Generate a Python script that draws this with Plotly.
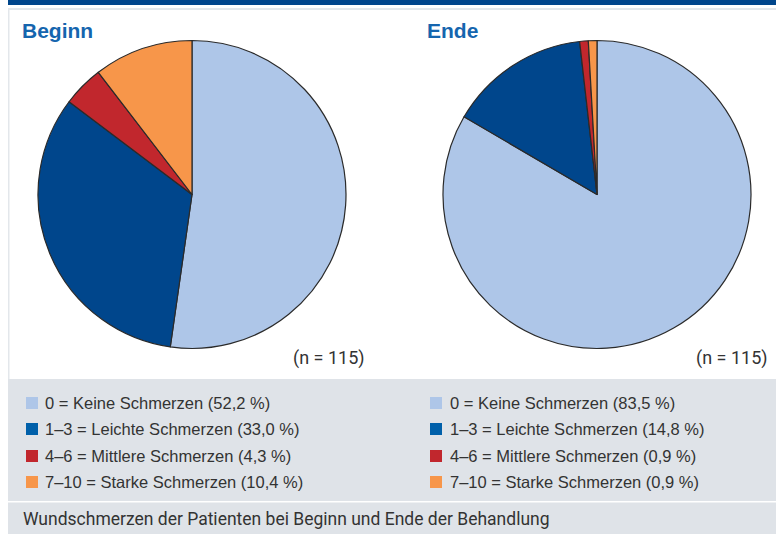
import plotly.graph_objects as go

W, H = 776, 534

categories = ["0 = Keine Schmerzen", "1–3 = Leichte Schmerzen",
              "4–6 = Mittlere Schmerzen", "7–10 = Starke Schmerzen"]
beginn_values = [52.2, 33.0, 4.3, 10.4]
ende_values = [83.5, 14.8, 0.9, 0.9]
panel_titles = ["Beginn", "Ende"]
n_label = "(n = 115)"
caption = "Wundschmerzen der Patienten bei Beginn und Ende der Behandlung"

pie_colors = ["#aec6e8", "#00468c", "#c1272d", "#f7964a"]
legend_colors = ["#aec6e8", "#0060aa", "#c1272d", "#f7964a"]


def px(x):
    return x / W


def py(y):
    return 1 - y / H


def fmt(v):
    return f"({v:.1f} %)".replace(".", ",")


fig = go.Figure()

pie_boxes = [(38, 346), (443, 751)]
for vals, (x0, x1) in zip([beginn_values, ende_values], pie_boxes):
    fig.add_trace(go.Pie(
        labels=categories, values=vals, sort=False, direction="clockwise",
        rotation=0, textinfo="none", hoverinfo="label+percent",
        marker=dict(colors=pie_colors, line=dict(color="#2a2a2a", width=1.2)),
        domain=dict(x=[px(x0), px(x1)], y=[py(348.5), py(40.5)]),
        showlegend=False,
    ))

shapes = []


def rect(x0, y0, x1, y1, color):
    shapes.append(dict(type="rect", xref="paper", yref="paper",
                       x0=px(x0), x1=px(x1), y0=py(y1), y1=py(y0),
                       fillcolor=color, line=dict(width=0), layer="below"))


rect(8, 0, W, 5, "#00468c")
rect(8, 8, W, 10, "#e3e7eb")
rect(8, 8, 9.5, 379, "#e3e7eb")
rect(8, 379, W, 501, "#dfe3e8")
rect(8, 502.5, W, H, "#dfe3e8")

annotations = []
for t, x in zip(panel_titles, [20, 425]):
    annotations.append(dict(text=f"<b>{t}</b>", x=px(x), y=py(30), xref="paper", yref="paper",
                            xanchor="left", yanchor="middle", showarrow=False,
                            font=dict(family="Liberation Sans, Arial", size=21, color="#1565ae")))

for xr in [367, 770]:
    annotations.append(dict(text=n_label, x=px(xr), y=py(358), xref="paper", yref="paper",
                            xanchor="right", yanchor="middle", showarrow=False,
                            font=dict(family="Roboto", size=18, color="#333333")))

rows_y = [403, 429, 456, 482]
for vals, (sq_x, tx) in zip([beginn_values, ende_values], [(26, 43), (430, 448)]):
    for cat, v, c, yy in zip(categories, vals, legend_colors, rows_y):
        rect(sq_x, yy - 6, sq_x + 12, yy + 6, c)
        annotations.append(dict(text=f"{cat} {fmt(v)}", x=px(tx), y=py(yy),
                                xref="paper", yref="paper", xanchor="left", yanchor="middle",
                                showarrow=False,
                                font=dict(family="Liberation Sans, Arial", size=16.5, color="#333333")))

annotations.append(dict(text=caption, x=px(21), y=py(519), xref="paper", yref="paper",
                        xanchor="left", yanchor="middle", showarrow=False,
                        font=dict(family="Roboto", size=17.5, color="#333333")))

fig.update_layout(width=W, height=H, margin=dict(l=0, r=0, t=0, b=0),
                  paper_bgcolor="white", plot_bgcolor="white",
                  shapes=shapes, annotations=annotations)

fig.write_html("out.html", config={"displayModeBar": False},
               post_script="document.body.style.margin='0';document.body.style.overflow='hidden';")
